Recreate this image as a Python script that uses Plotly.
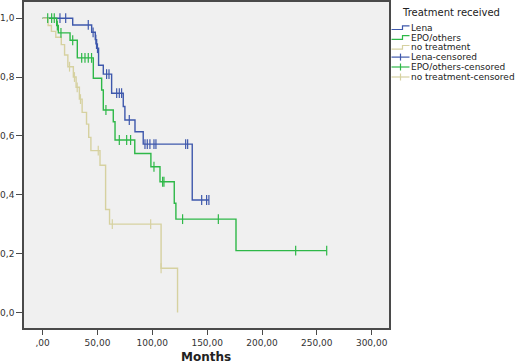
import numpy as np
import plotly.graph_objects as go

# ---------------- data ----------------
groups = ["Lena", "EPO/others", "no treatment"]

lena_event_times = [27.4, 44.7, 48.0, 49.2, 51.0, 55.3, 62.9, 73.5, 75.0, 84.2, 91.7, 136.4]
lena_surv = [0.977, 0.952, 0.927, 0.898, 0.84, 0.81, 0.745, 0.70, 0.654, 0.614, 0.572, 0.382]
lena_end = 151.6
lena_censor_times = [15.8, 21.0, 41.6, 46.0, 48.5, 50.0, 58.3, 60.5, 67.5, 69.9, 72.0, 79.0,
                     93.3, 95.4, 97.8, 101.5, 103.3, 130.4, 132.2, 145.0, 149.5, 151.6]

epo_event_times = [12.8, 14.3, 25.0, 31.6, 46.2, 53.8, 55.3, 64.4, 66.0, 84.0, 98.7, 107.0,
                   120.0, 121.5, 176.3]
epo_surv = [0.975, 0.95, 0.925, 0.865, 0.796, 0.756, 0.688, 0.648, 0.586, 0.54, 0.495, 0.444,
            0.371, 0.317, 0.21]
epo_end = 259.0
epo_censor_times = [4.6, 8.2, 10.6, 13.4, 16.7, 27.4, 35.6, 38.6, 41.6, 44.6, 57.7, 69.9, 76.6,
                    80.2, 101.5, 109.4, 110.6, 127.6, 160.2, 230.7, 259.0]

none_event_times = [5.0, 8.0, 12.0, 17.0, 20.0, 23.0, 28.0, 30.5, 33.5, 36.0, 40.0, 42.0, 44.0,
                    52.3, 57.4, 61.0, 108.0, 123.0]
none_surv = [0.975, 0.955, 0.935, 0.91, 0.875, 0.835, 0.80, 0.765, 0.725, 0.68, 0.64, 0.595,
             0.55, 0.50, 0.35, 0.30, 0.15, 0.0]
none_end = 123.0
none_censor_times = [24.5, 29.0, 31.5, 34.5, 50.7, 63.5, 98.5, 108.0]

colors = ["#3E58AC", "#2EB848", "#D6D1A0"]

x_tickvals = [0, 50, 100, 150, 200, 250, 300]
x_ticktext = [",00", "50,00", "100,00", "150,00", "200,00", "250,00", "300,00"]
y_tickvals = [0.0, 0.2, 0.4, 0.6, 0.8, 1.0]
y_ticktext = ["0,0", "0,2", "0,4", "0,6", "0,8", "1,0"]

legend_title = "Treatment received"
legend_labels = ["Lena", "EPO/others", "no treatment",
                 "Lena-censored", "EPO/others-censored", "no treatment-censored"]

# ---------------- figure ----------------
W, H = 520, 364
L, R, T, B = 24, 131, 2, 36
PW, PH = W - L - R, H - T - B


def px(xp):
    return (xp - L) / PW


def py(yp):
    return (H - B - yp) / PH


fig = go.Figure()

series = [
    (lena_event_times, lena_surv, lena_end, lena_censor_times),
    (epo_event_times, epo_surv, epo_end, epo_censor_times),
    (none_event_times, none_surv, none_end, none_censor_times),
]

for name, col, (et, sv, end, ct) in zip(groups, colors, series):
    xs = [0.0] + list(et)
    ys = [1.0] + list(sv)
    if end > et[-1]:
        xs.append(end)
        ys.append(sv[-1])
    fig.add_trace(go.Scatter(x=xs, y=ys, mode="lines", line=dict(color=col, width=1.4, shape="hv"),
                             name=name, showlegend=False, hoverinfo="skip"))

for name, col, (et, sv, end, ct) in zip(groups, colors, series):
    et_a = np.array(et)
    sv_a = np.array([1.0] + list(sv))
    idx = np.searchsorted(et_a, np.array(ct), side="right")
    cy = sv_a[idx]
    fig.add_trace(go.Scatter(x=ct, y=cy, mode="markers",
                             marker=dict(symbol="line-ns", size=7, line=dict(color=col, width=1.2)),
                             name=name + "-censored", showlegend=False, hoverinfo="skip"))

# ---------------- manual legend ----------------
shapes = []
annotations = []
annotations.append(dict(x=px(400), y=py(12.7), xref="paper", yref="paper", text=legend_title,
                        showarrow=False, xanchor="left", yanchor="middle",
                        font=dict(family="DejaVu Sans", size=10, color="#222")))
item_y = [27.7, 37.5, 47.3, 57.1, 67.0, 77.0]
for i, (lab, yy) in enumerate(zip(legend_labels, item_y)):
    col = colors[i % 3]
    if i < 3:
        path = "M {} {} L {} {} L {} {} L {} {}".format(
            px(391.5), py(yy + 1.8), px(402.5), py(yy + 1.8), px(402.5), py(yy - 1.8),
            px(409.5), py(yy - 1.8))
        shapes.append(dict(type="path", xref="paper", yref="paper", path=path,
                           line=dict(color=col, width=1.2)))
    else:
        shapes.append(dict(type="line", xref="paper", yref="paper", x0=px(391.5), x1=px(409.5),
                           y0=py(yy), y1=py(yy), line=dict(color=col, width=1.2)))
        shapes.append(dict(type="line", xref="paper", yref="paper", x0=px(400.5), x1=px(400.5),
                           y0=py(yy - 3.5), y1=py(yy + 3.5), line=dict(color=col, width=1.2)))
    annotations.append(dict(x=px(409), y=py(yy), xref="paper", yref="paper", text=lab,
                            showarrow=False, xanchor="left", yanchor="middle",
                            font=dict(family="DejaVu Sans", size=9, color="#222")))

annotations.append(dict(x=px(206), y=py(357), xref="paper", yref="paper", text="<b>Months</b>",
                        showarrow=False, xanchor="center", yanchor="middle",
                        font=dict(family="DejaVu Sans", size=12, color="#222")))

fig.update_layout(
    width=W, height=H,
    margin=dict(l=L, r=R, t=T, b=B, pad=0, autoexpand=False),
    paper_bgcolor="white", plot_bgcolor="#F0F0F0",
    showlegend=False,
    shapes=shapes, annotations=annotations,
    font=dict(family="DejaVu Sans", size=9, color="#333"),
)
fig.update_xaxes(range=[-17, 315.8], tickvals=x_tickvals, ticktext=x_ticktext, automargin=False,
                 showgrid=False, zeroline=False, showline=True, mirror=True,
                 linecolor="#4a4a4a", linewidth=1.5, ticks="outside", ticklen=5,
                 tickcolor="#4a4a4a", tickwidth=1.2, tickfont=dict(size=9, color="#333"))
fig.update_yaxes(range=[-0.053, 1.055], tickvals=y_tickvals, ticktext=y_ticktext, automargin=False,
                 showgrid=False, zeroline=False, showline=True, mirror=True,
                 linecolor="#4a4a4a", linewidth=1.5, ticks="outside", ticklen=6,
                 tickcolor="#4a4a4a", tickwidth=1.2, tickfont=dict(size=9, color="#333"))

fig.write_html("out.html", config={"displayModeBar": False},
               post_script="document.body.style.margin='0';")
